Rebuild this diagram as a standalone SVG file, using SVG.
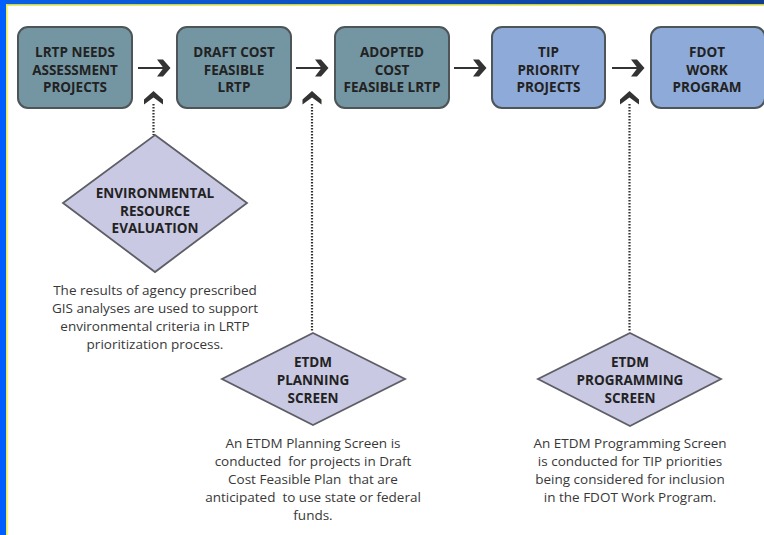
<svg xmlns="http://www.w3.org/2000/svg" width="764" height="535" viewBox="0 0 764 535">
<defs>
<linearGradient id="topband" x1="0" y1="0" x2="1" y2="0">
<stop offset="0" stop-color="#0a60e8"/>
<stop offset="1" stop-color="#123c8c"/>
</linearGradient>
<style>
.box{stroke:#4d5558;stroke-width:2}
.dk{fill:#7396a2}
.lt{fill:#8eaad8}
.bt{font-family:"Open Sans","Liberation Sans",sans-serif;font-weight:bold;font-size:13.5px;fill:#222;text-anchor:middle}
.dia{fill:#c9c9e3;stroke:#5e5e66;stroke-width:1.8}
.desc{font-family:"Open Sans","Liberation Sans",sans-serif;font-size:13.5px;fill:#383838;text-anchor:middle;white-space:pre}
.line{stroke:#333;stroke-width:2;fill:none}
.dot{stroke:#333;stroke-width:2.2;fill:none;stroke-dasharray:1.6 1.4}
.head{fill:#333}
</style>
</defs>
<rect x="0" y="0" width="764" height="535" fill="#ffffff"/>
<rect x="0" y="0" width="764" height="4.5" fill="url(#topband)"/>
<rect x="6" y="4.5" width="758" height="1.5" fill="#f2f040"/>
<rect x="0" y="0" width="6" height="535" fill="#0060ff"/>
<rect x="6" y="4.5" width="1.6" height="530.5" fill="#f2f040"/>

<g id="box-lrtp-needs">
<rect class="box dk" x="18" y="27" width="114" height="81" rx="10"/>
<text class="bt" x="75" y="57">LRTP NEEDS</text>
<text class="bt" x="75" y="74.5">ASSESSMENT</text>
<text class="bt" x="75" y="92">PROJECTS</text>
</g>
<g id="box-draft">
<rect class="box dk" x="177" y="27" width="114" height="81" rx="10"/>
<text class="bt" x="234" y="57">DRAFT COST</text>
<text class="bt" x="234" y="74.5">FEASIBLE</text>
<text class="bt" x="234" y="92">LRTP</text>
</g>
<g id="box-adopted">
<rect class="box dk" x="335" y="27" width="114" height="81" rx="10"/>
<text class="bt" x="392" y="57">ADOPTED</text>
<text class="bt" x="392" y="74.5">COST</text>
<text class="bt" x="392" y="92">FEASIBLE LRTP</text>
</g>
<g id="box-tip">
<rect class="box lt" x="492" y="27" width="113" height="81" rx="10"/>
<text class="bt" x="548.5" y="57">TIP</text>
<text class="bt" x="548.5" y="74.5">PRIORITY</text>
<text class="bt" x="548.5" y="92">PROJECTS</text>
</g>
<g id="box-fdot">
<rect class="box lt" x="651" y="27" width="114" height="81" rx="10"/>
<text class="bt" x="707" y="57">FDOT</text>
<text class="bt" x="707" y="74.5">WORK</text>
<text class="bt" x="707" y="92">PROGRAM</text>
</g>

<g id="diamond-env">
<polygon class="dia" points="155,135 247,203 155,272 63,203"/>
<text class="bt" x="155" y="198">ENVIRONMENTAL</text>
<text class="bt" x="155" y="216">RESOURCE</text>
<text class="bt" x="155" y="233">EVALUATION</text>
<text class="desc" x="155" y="294.5">The results of agency prescribed</text>
<text class="desc" x="155" y="312.5">GIS analyses are used to support</text>
<text class="desc" x="155" y="330.5">environmental criteria in LRTP</text>
<text class="desc" x="155" y="348.5">prioritization process.</text>
</g>
<g id="diamond-planning">
<polygon class="dia" points="313,333 405,379 313,425 222,379"/>
<text class="bt" x="313" y="367">ETDM</text>
<text class="bt" x="313" y="385">PLANNING</text>
<text class="bt" x="313" y="403">SCREEN</text>
<text class="desc" x="313" y="448" xml:space="preserve">An ETDM Planning Screen is</text>
<text class="desc" x="313" y="466" xml:space="preserve">conducted  for projects in Draft</text>
<text class="desc" x="313" y="484" xml:space="preserve">Cost Feasible Plan  that are</text>
<text class="desc" x="313" y="502" xml:space="preserve">anticipated  to use state or federal</text>
<text class="desc" x="313" y="520" xml:space="preserve">funds.</text>
</g>
<g id="diamond-programming">
<polygon class="dia" points="630,333 721,379 630,426 538,379"/>
<text class="bt" x="630" y="367">ETDM</text>
<text class="bt" x="630" y="385">PROGRAMMING</text>
<text class="bt" x="630" y="403">SCREEN</text>
<text class="desc" x="630" y="448">An ETDM Programming Screen</text>
<text class="desc" x="630" y="466">is conducted for TIP priorities</text>
<text class="desc" x="630" y="484">being considered for inclusion</text>
<text class="desc" x="630" y="502">in the FDOT Work Program.</text>
</g>

<g id="connectors">
<line class="line" x1="138" y1="68" x2="164" y2="68"/>
<path class="head" d="M157,59.5 L163,59.5 L170.5,68 L163,76.5 L157,76.5 L163.5,68 Z"/>
<line class="line" x1="296" y1="68" x2="322" y2="68"/>
<path class="head" d="M315,59.5 L321,59.5 L328.5,68 L321,76.5 L315,76.5 L321.5,68 Z"/>
<line class="line" x1="454" y1="68" x2="480" y2="68"/>
<path class="head" d="M473,59.5 L479,59.5 L486.5,68 L479,76.5 L473,76.5 L479.5,68 Z"/>
<line class="line" x1="612" y1="68" x2="638" y2="68"/>
<path class="head" d="M631,59.5 L637,59.5 L644.5,68 L637,76.5 L631,76.5 L637.5,68 Z"/>

<line class="dot" x1="153.5" y1="104" x2="153.5" y2="135"/>
<path class="head" d="M153.5,91 L163,99.5 L163,104.5 L153.5,97.5 L144,104.5 L144,99.5 Z"/>
<line class="dot" x1="312" y1="104" x2="312" y2="331"/>
<path class="head" d="M312,91 L321.5,99.5 L321.5,104.5 L312,97.5 L302.5,104.5 L302.5,99.5 Z"/>
<line class="dot" x1="629.5" y1="104" x2="629.5" y2="331"/>
<path class="head" d="M629.5,91 L639,99.5 L639,104.5 L629.5,97.5 L620,104.5 L620,99.5 Z"/>
</g>
</svg>
